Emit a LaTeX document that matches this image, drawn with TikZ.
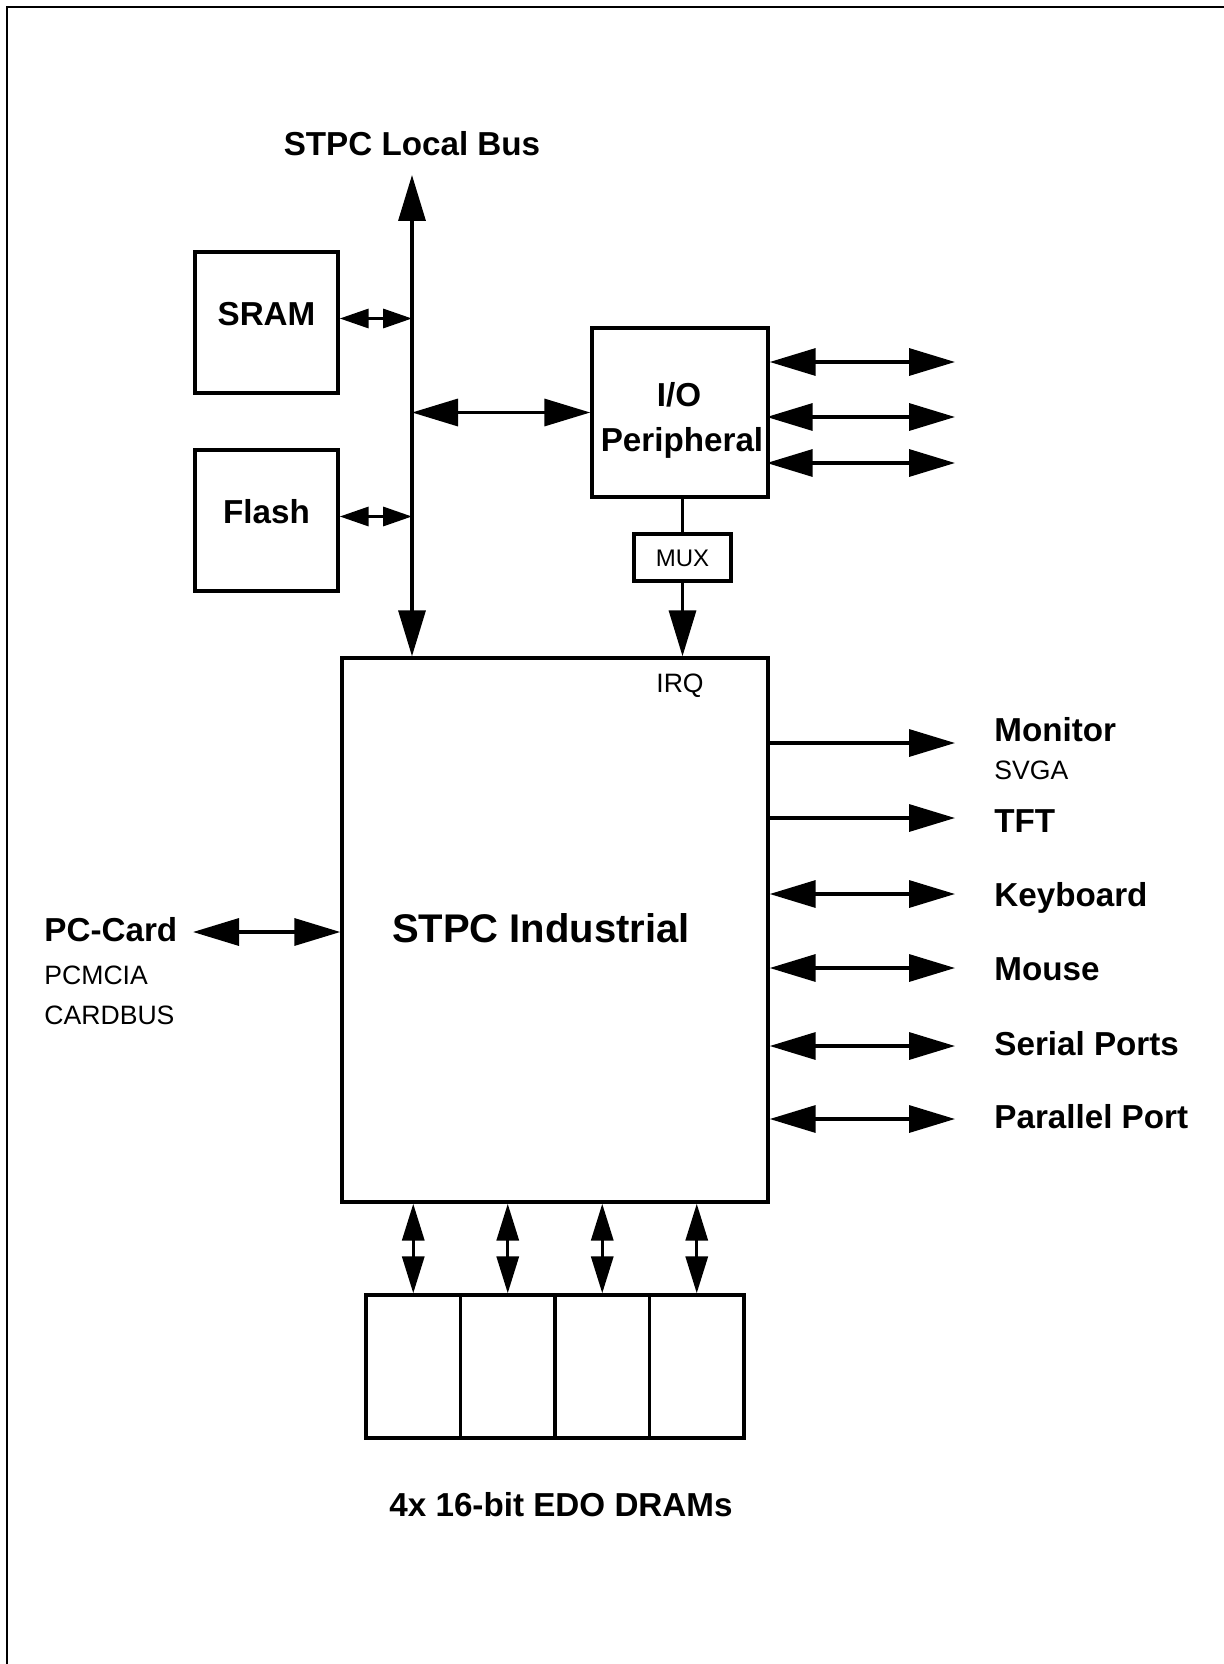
\documentclass[tikz,border=0pt]{standalone}
\usepackage{fontspec}
\setmainfont{Liberation Sans}
\usetikzlibrary{arrows.meta}
\tikzset{
  bigtip/.tip={Triangle[length=23pt,width=13.5pt]},
  smalltip/.tip={Triangle[length=14.5pt,width=9.5pt]},
  midtip/.tip={Triangle[length=18.5pt,width=11pt]},
}
\begin{document}
\begin{tikzpicture}[x=0.5pt,y=-0.5pt,
  box/.style={draw, line width=1.7pt, inner sep=0pt},
  boldlbl/.style={font=\fontsize{16.6}{20}\selectfont\bfseries, inner sep=0pt, text height=11.9pt, text depth=0pt},
  biglbl/.style={font=\fontsize{20}{24}\selectfont\bfseries, inner sep=0pt, text height=14.3pt, text depth=0pt},
  reglbl/.style={font=\fontsize{13.3}{16}\selectfont, inner sep=0pt, text height=9.5pt, text depth=0pt},
  muxlbl/.style={font=\fontsize{12}{14}\selectfont, inner sep=0pt, text height=8.6pt, text depth=0pt},
  conn/.style={line width=1.7pt},
  bigdbl/.style={conn, arrows={bigtip-bigtip}},
  bigsgl/.style={conn, arrows={-bigtip}},
  smalldbl/.style={conn, arrows={smalltip-smalltip}},
  middbl/.style={conn, arrows={midtip-midtip}},
]
\useasboundingbox (0,0) rectangle (1224,1664);
% frame
\draw[line width=1.1pt] (7,1664) -- (7,7) -- (1224,7);

% bus
\node[boldlbl] (buslbl) at (412,144) {STPC Local Bus};
\coordinate (busTop) at (412,175);

% memory boxes
\node[box, minimum width=71.5pt, minimum height=70.5pt] (sram) at (266.5,322.5) {};
\node[boldlbl] (sramT) at (266.5,314) {SRAM};
\node[box, minimum width=71.5pt, minimum height=70.5pt] (flash) at (266.5,520.5) {};
\node[boldlbl] (flashT) at (266.5,512) {Flash};

% I/O peripheral
\node[box, minimum width=88pt, minimum height=84.5pt] (io) at (680,412.5) {};
\node[boldlbl] (ioT1) at (679,395) {I/O};
\node[boldlbl] (ioT2) at (682,440) {Peripheral};

% MUX
\node[box, minimum width=48.5pt, minimum height=23.5pt, muxlbl] (mux) at (682.5,557.5) {MUX};

% STPC
\node[box, minimum width=213pt, minimum height=272pt] (stpc) at (555,930) {};
\node[biglbl] (stpcT) at (541,928) {STPC Industrial};
\node[reglbl] (irq) at (680,683) {IRQ};

% DRAMs
\node[box, minimum width=47.25pt, minimum height=71.5pt] (d1) at (413.25,1366.5) {};
\node[box, minimum width=47.25pt, minimum height=71.5pt] (d2) at (507.75,1366.5) {};
\node[box, minimum width=47.25pt, minimum height=71.5pt] (d3) at (602.25,1366.5) {};
\node[box, minimum width=47.25pt, minimum height=71.5pt] (d4) at (696.75,1366.5) {};
\node[boldlbl] (dramT) at (561,1505) {4x 16-bit EDO DRAMs};

% right labels
\node[boldlbl, anchor=west] (monT) at (994,730) {Monitor};
\node[reglbl, anchor=west] (svgaT) at (994,770) {SVGA};
\node[boldlbl, anchor=west] (tftT) at (994,821) {TFT};
\node[boldlbl, anchor=west] (kbT) at (994,895) {Keyboard};
\node[boldlbl, anchor=west] (mouseT) at (994,969) {Mouse};
\node[boldlbl, anchor=west] (serT) at (994,1044) {Serial Ports};
\node[boldlbl, anchor=west] (parT) at (994,1117) {Parallel Port};

% left labels
\node[boldlbl, anchor=west] (pcT) at (44,930) {PC-Card};
\node[reglbl, anchor=west] (pcmT) at (44,975) {PCMCIA};
\node[reglbl, anchor=west] (cbT) at (44,1015) {CARDBUS};

% connector end points
\coordinate (io1) at (955,362);
\coordinate (io2) at (955,417);
\coordinate (io3) at (955,463);
\coordinate (rMon) at (955,743);
\coordinate (rTft) at (955,818);
\coordinate (rKb) at (955,894);
\coordinate (rMouse) at (955,968);
\coordinate (rSer) at (955,1046);
\coordinate (rPar) at (955,1119);
\coordinate (pcEnd) at (193,932);

% bus connectors
\draw[bigdbl] (busTop) -- (busTop |- stpc.north);
\draw[smalldbl] ([yshift=2pt]sram.east) -- ([yshift=2pt]sram.east -| busTop);
\draw[smalldbl] ([yshift=2pt]flash.east) -- ([yshift=2pt]flash.east -| busTop);
\draw[bigdbl] (io.west -| busTop) -- (io.west);

% I/O outputs
\draw[bigdbl] (io1 -| io.east) -- (io1);
\draw[bigdbl] ([xshift=-1.5pt]io2 -| io.east) -- (io2);
\draw[bigdbl] ([xshift=-1.5pt]io3 -| io.east) -- (io3);

% MUX
\draw[conn] (mux.north |- io.south) -- (mux.north);
\draw[bigsgl] (mux.south) -- (mux.south |- stpc.north);

% STPC outputs
\draw[bigsgl] (rMon -| stpc.east) -- (rMon);
\draw[bigsgl] (rTft -| stpc.east) -- (rTft);
\draw[bigdbl] (rKb -| stpc.east) -- (rKb);
\draw[bigdbl] (rMouse -| stpc.east) -- (rMouse);
\draw[bigdbl] (rSer -| stpc.east) -- (rSer);
\draw[bigdbl] (rPar -| stpc.east) -- (rPar);

% PC card
\draw[bigdbl] (pcEnd) -- (pcEnd -| stpc.west);

% DRAM links
\draw[middbl] (d1.north |- stpc.south) -- (d1.north);
\draw[middbl] (d2.north |- stpc.south) -- (d2.north);
\draw[middbl] (d3.north |- stpc.south) -- (d3.north);
\draw[middbl] (d4.north |- stpc.south) -- (d4.north);
\end{tikzpicture}
\end{document}
